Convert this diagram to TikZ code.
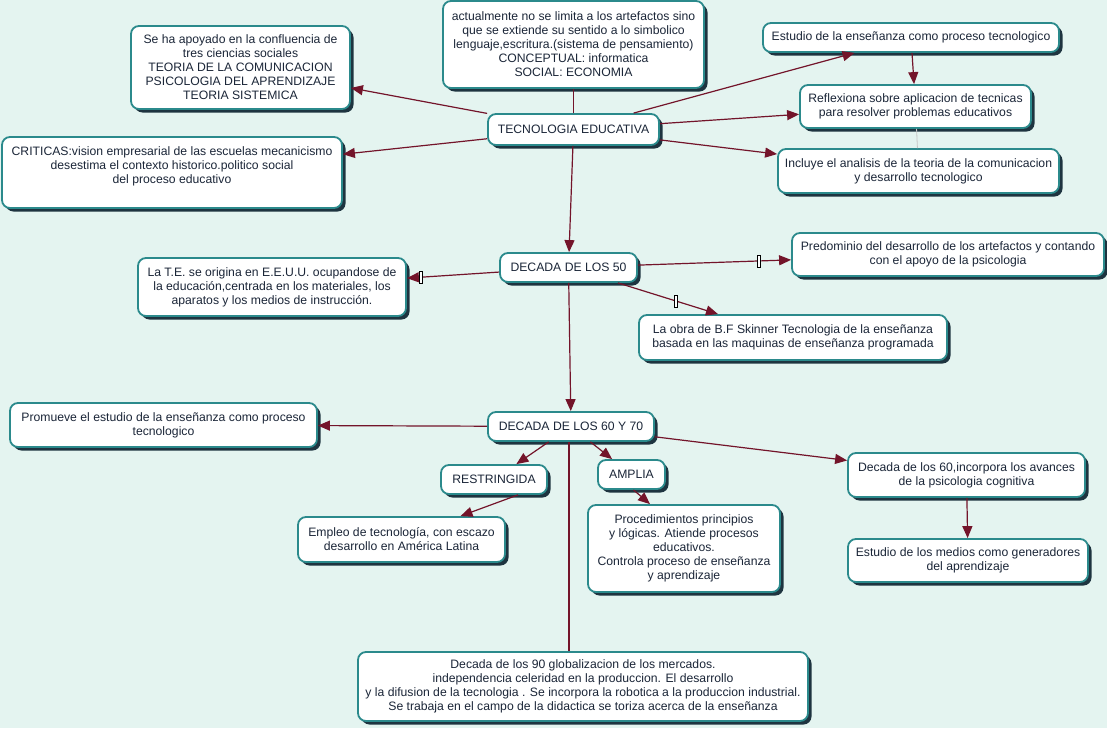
\documentclass[tikz,border=0pt]{standalone}
\usepackage{fontspec}
\setmainfont{Liberation Sans}
\usepackage{xcolor}
\usepackage{tikz}
\usetikzlibrary{arrows.meta, shadows}
\definecolor{bgc}{HTML}{E4F4F0}
\definecolor{boxline}{HTML}{2B8A8C}
\definecolor{shadowc}{HTML}{1E3440}
\definecolor{textc}{HTML}{1B2638}
\definecolor{arrowc}{HTML}{73142A}
\tikzset{
  box/.style={draw=boxline, line width=1.8pt, fill=white, rounded corners=8pt,
    align=center, text=textc, inner sep=2pt,
    font=\fontsize{12.2}{14}\selectfont,
    drop shadow={shadow xshift=3.5pt, shadow yshift=-3.5pt, fill=shadowc, opacity=1}},
  con/.style={draw=arrowc, line width=1.2pt, -{Triangle[length=12pt,width=10pt]}},
  plain/.style={draw=arrowc, line width=1.2pt},
  faint/.style={draw=gray!45, line width=0.8pt},
  lblmark/.style={draw=black, fill=white, line width=0.5pt, inner sep=0pt,
    minimum width=3.5pt, minimum height=12pt}
}

\begin{document}
\begin{tikzpicture}[x=1pt,y=-1pt]
    % Background
    \fill[bgc] (0,0) rectangle (1107,728);
    \useasboundingbox (0,0) rectangle (1107,728);
    % Central topic
    \node[box, minimum width=171pt, minimum height=31pt] (te) at (573.5,129.5) {TECNOLOGIA EDUCATIVA};
    \node[box, minimum width=261pt, minimum height=87pt] (actual) at (573.5,44.5)
      {actualmente no se limita a los artefactos sino\\que se extiende su sentido a lo simbolico\\lenguaje,escritura.(sistema de pensamiento)\\CONCEPTUAL: informatica\\SOCIAL: ECONOMIA};
    \node[box, minimum width=219pt, minimum height=83pt] (apoyado) at (240.5,67.5)
      {Se ha apoyado en la confluencia de\\tres ciencias sociales\\TEORIA DE LA COMUNICACION\\PSICOLOGIA DEL APRENDIZAJE\\TEORIA SISTEMICA};
    \node[box, minimum width=340pt, minimum height=71pt] (criticas) at (172,172.5)
      {CRITICAS:vision empresarial de las escuelas mecanicismo\\desestima el contexto historico.politico social\\del proceso educativo\\~};
    \node[box, minimum width=296pt, minimum height=29pt] (estudio) at (911,37.5)
      {Estudio de la enseñanza como proceso tecnologico};
    \node[box, minimum width=231pt, minimum height=43pt] (reflexiona) at (915.5,106.5)
      {Reflexiona sobre aplicacion de tecnicas\\para resolver problemas educativos};
    \node[box, minimum width=281pt, minimum height=44pt] (incluye) at (918.5,171)
      {Incluye el analisis de la teoria de la comunicacion\\y desarrollo tecnologico};
    % Decada de los 50
    \node[box, minimum width=137pt, minimum height=29pt] (d50) at (568.5,267.5) {DECADA DE LOS 50};
    \node[box, minimum width=268pt, minimum height=58pt] (origina) at (272,287)
      {La T.E. se origina en E.E.U.U. ocupandose de\\la educación,centrada en los materiales, los\\aparatos y los medios de instrucción.};
    \node[box, minimum width=312pt, minimum height=43pt] (predominio) at (948,254.5)
      {Predominio del desarrollo de los artefactos y contando\\con el apoyo de la psicologia};
    \node[box, minimum width=308pt, minimum height=45pt] (skinner) at (793,337.5)
      {La obra de B.F Skinner Tecnologia de la enseñanza\\basada en las maquinas de enseñanza programada};
    % Decada de los 60 y 70
    \node[box, minimum width=166pt, minimum height=29pt] (d6070) at (571,426.5) {DECADA DE LOS 60 Y 70};
    \node[box, minimum width=307pt, minimum height=44pt] (promueve) at (163.5,425)
      {Promueve el estudio de la enseñanza como proceso\\tecnologico};
    \node[box, minimum width=106pt, minimum height=29pt] (restringida) at (494,479.5) {RESTRINGIDA};
    \node[box, minimum width=67pt, minimum height=29pt] (amplia) at (631.5,474.5) {AMPLIA};
    \node[box, minimum width=207pt, minimum height=45pt] (empleo) at (401.5,539.5)
      {Empleo de tecnología, con escazo\\desarrollo en América Latina};
    \node[box, minimum width=192pt, minimum height=87pt] (proc) at (684,548.5)
      {Procedimientos principios\\y lógicas. Atiende procesos\\educativos.\\Controla proceso de enseñanza\\y aprendizaje};
    \node[box, minimum width=237pt, minimum height=44pt] (dec60) at (966.5,475)
      {Decada de los 60,incorpora los avances\\de la psicologia cognitiva};
    \node[box, minimum width=240pt, minimum height=43pt] (medios) at (968,560.5)
      {Estudio de los medios como generadores\\del aprendizaje};
    % Decada de los 90
    \node[box, minimum width=450pt, minimum height=69pt] (dec90) at (583,686.5)
      {Decada de los 90 globalizacion de los mercados.\\independencia celeridad en la produccion. El desarrollo\\y la difusion de la tecnologia . Se incorpora la robotica a la produccion industrial.\\Se trabaja en el campo de la didactica se toriza acerca de la enseñanza};
    % Connectors
    \draw[plain] (te) -- (actual);
    \draw[con] (te) -- (apoyado);
    \draw[con] (te) -- (criticas);
    \draw[con] (te) -- (estudio);
    \draw[con] (te) -- (reflexiona);
    \draw[con] (te) -- (incluye);
    \draw[con] (estudio) -- (reflexiona);
    \draw[faint] (reflexiona) -- (incluye);
    \draw[con] (te) -- (d50);
    \draw[con] (d50) -- node[lblmark, pos=0.85]{} (origina);
    \draw[con] (d50) -- node[lblmark, pos=0.79]{} (predominio);
    \draw[con] (d50) -- node[lblmark, pos=0.58]{} (skinner);
    \draw[con] (d50) -- (d6070);
    \draw[con] (d6070) -- (promueve);
    \draw[con] (d6070) -- (restringida);
    \draw[con] (d6070) -- (amplia);
    \draw[con] (d6070) -- (dec60);
    \draw[plain] (d6070.south -| 569,0) -- (dec90.north -| 569,0);
    \draw[con] ([xshift=24pt]restringida.south) -- ([xshift=59pt]empleo.north);
    \draw[con] ([xshift=2pt]amplia.south) -- ([xshift=-34pt]proc.north);
    \draw[con] (dec60) -- (medios);
\end{tikzpicture}
\end{document}
